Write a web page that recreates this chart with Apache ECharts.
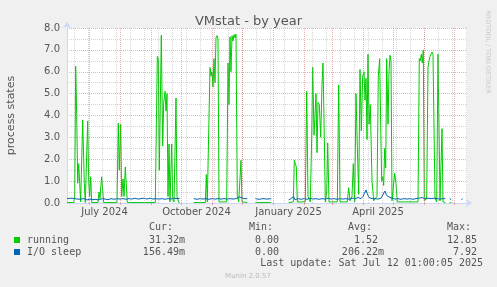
<!DOCTYPE html>
<html><head><meta charset="utf-8">
<script src="https://cdn.jsdelivr.net/npm/echarts@6/dist/echarts.min.js"></script>
<style>html,body{margin:0;padding:0;background:#f0f0f0;}#c{width:497px;height:287px;}</style>
</head><body><div id="c"></div>
<script>
// ---- data ----
const chartTitle = 'VMstat - by year';
const yTitle = 'process states';
const startDate = [2024, 5, 9];              // first day shown (Jun 9 2024)
const spanDays = 400;
const xLabelMonths = [[2024, 6], [2024, 9], [2025, 0], [2025, 3]];
const xLabels = ['July 2024', 'October 2024', 'January 2025', 'April 2025'];
const yMax = 8;
const seriesNames = ['running', 'I/O sleep'];
const seriesColors = ['#00CC00', '#0066B3'];
const curVals = ['31.32m', '156.49m'];
const minVals = ['0.00 ', '0.00 '];
const avgVals = ['1.52 ', '206.22m'];
const maxVals = ['12.85 ', '7.92 '];
const lastUpdate = 'Last update: Sat Jul 12 01:00:05 2025';
const footer = 'Munin 2.0.57';

// [day offset, value]; null = no data
const running = [
[0,0.02],[6.7,0.02],[7.7,0.3],[8.7,6.25],[9.7,4.0],[10.7,0.9],[11.7,1.8],[12.7,0.9],[13.7,0.05],[15,0.1],[15.7,3.8],[16.7,2.0],[17.3,0.9],[18.3,0.02],[19.7,0.1],[20.7,3.75],[21.7,1.0],[22.7,0.3],[23.7,1.2],[24.7,0.02],[31,0.02],[32,0.5],[33,0.2],[33.7,0.7],[34.7,1.2],[35.7,0.55],[36.7,0.02],[50,0.02],[51.3,3.65],[52.3,1.5],[53.7,3.6],[54.7,0.3],[56,1.1],[57,0.3],[58.3,1.65],[59.3,1.65],[60.3,0.02],[88.3,0.02],[90.3,6.7],[91.3,6.6],[92.3,1.5],[93.3,4.5],[94.3,7.67],[95.7,2.6],[96.7,4.6],[98,5.1],[99,4.2],[100,5.0],[101,0.3],[102,2.7],[103,0.05],[104.7,2.7],[105.7,0.2],[107,0.05],[109,4.8],[110,0.3],[111.7,0.02],[112.7,0.02],[113.5,null],
[126.7,0.02],[138.3,0.02],[139.3,1.3],[140.3,0.05],[142,0.05],[143,6.2],[144,5.8],[145,6.0],[146,5.3],[147,6.6],[148,5.5],[149,7.55],[150,7.65],[151,7.5],[152,0.05],[159.7,0.05],[161,6.4],[162,4.5],[163,7.6],[164,6.0],[165,7.65],[166,7.4],[167,7.7],[168,7.55],[169,7.72],[170.3,0.3],[171.7,0.05],[173,0.05],[174,1.95],[175,0.05],[180.3,0.02],[181,null],
[188.3,0.02],[204.3,0.02],[205,null],
[221.7,0.02],[226.3,0.05],[227.3,1.95],[228.3,2.0],[229.3,1.65],[230.3,0.05],[238.3,0.05],[239.7,5.1],[241,0.3],[243.3,0.05],[244.7,3.0],[245.7,6.2],[247,3.1],[248,4.0],[249,5.0],[250,2.3],[251,4.6],[252.3,4.5],[253.7,3.0],[255,5.4],[256,6.4],[257.3,3.0],[258.3,0.05],[259.7,0.5],[260.7,2.75],[262,0.05],[270.3,0.05],[271.7,5.4],[273,0.05],[280.3,0.05],[281.7,0.7],[283,0.1],[285,0.3],[286.3,1.8],[287.7,0.05],[289,5.0],[290.3,2.6],[291.7,0.4],[293,6.1],[294.3,3.3],[295.7,5.8],[297,6.0],[298,4.7],[299,5.7],[300,2.9],[301,6.8],[302,3.6],[303.3,4.5],[305,1.0],[306.7,0.1],[308.3,0.05],[310,0.3],[311.3,5.8],[312.7,6.6],[313.7,3.5],[314.7,1.0],[315.7,1.2],[316.7,0.8],[317.7,2.5],[318.7,1.6],[319.7,6.6],[321,3.6],[322,6.0],[323,6.75],[324,6.5],[325,0.1],[326.7,0.1],[327.7,1.35],[329,0.9],[330.3,0.05],[351,0.05],[352.3,6.6],[353.3,6.5],[354.3,6.8],[355.3,6.4],[356.3,7.0],[357.3,0.1],[359.7,0.2],[361,6.2],[362,6.5],[363,6.7],[364,6.8],[365,6.9],[366,6.8],[367,6.8],[368,0.2],[369.7,0.05],[371,6.8],[372,6.85],[373,0.1],[374,0.1],[375,3.4],[376,0.05],[378.3,0.02],[379,null],
[382.7,0.02],[384.3,0.02],[385,null]
];
const ioSleep = [
[0,0.2],[2,0.15],[4,0.22],[6,0.15],[8,0.2],[10,0.13],[12,0.17],[14,0.15],[17,0.2],[20,0.14],[23,0.18],[26,0.15],[29,0.17],[32,0.14],[35,0.2],[38,0.18],[41,0.15],[44,0.2],[47,0.17],[50,0.2],[53,0.18],[56,0.2],[59,0.17],[62,0.2],[65,0.18],[68,0.22],[71,0.18],[74,0.2],[77,0.22],[80,0.18],[83,0.22],[86,0.18],[89,0.2],[92,0.18],[95,0.2],[98,0.17],[101,0.2],[104,0.18],[107,0.22],[109,0.26],[111,0.2],[112.7,0.22],[113.5,null],
[126.7,0.2],[130,0.17],[133,0.2],[136,0.18],[139,0.2],[142,0.17],[145,0.2],[148,0.18],[151,0.2],[154,0.18],[157,0.2],[160,0.18],[163,0.2],[166,0.18],[169,0.2],[172,0.28],[174,0.22],[177,0.2],[180.3,0.2],[181,null],
[188.3,0.2],[192,0.17],[196,0.2],[200,0.18],[204.3,0.2],[205,null],
[221.7,0.15],[224,0.2],[226.5,0.3],[228,0.15],[231,0.2],[234,0.17],[237,0.2],[240,0.17],[243,0.22],[246,0.18],[249,0.2],[252,0.17],[255,0.2],[258,0.18],[261,0.22],[264,0.18],[267,0.2],[270,0.17],[273,0.2],[276,0.18],[279,0.2],[282,0.17],[285,0.22],[288,0.2],[291,0.25],[294,0.2],[296,0.3],[298,0.5],[299,0.6],[300,0.45],[302,0.25],[305,0.2],[308,0.2],[311,0.18],[314,0.22],[316,0.3],[318,0.55],[319.5,0.35],[321,0.3],[323,0.25],[325,0.2],[328,0.18],[331,0.2],[334,0.17],[337,0.2],[340,0.18],[343,0.2],[346,0.17],[349,0.2],[352,0.22],[355,0.25],[358,0.2],[361,0.22],[364,0.2],[367,0.22],[370,0.2],[373,0.18],[376,0.2],[378.3,0.2],[379,null],
[382.7,0.2],[384.3,0.15],[385,null],[394.3,0.15],[395.7,0.2]
];

// ---- helpers ----
const DAY = 86400000;
const t0 = Date.UTC(startDate[0], startDate[1], startDate[2]);
const dayOf = (y, m, d) => (Date.UTC(y, m, d) - t0) / DAY;
const monthStarts = [];
for (let y = 2024, m = 6; monthStarts.length < 20; m++) {
  if (m > 11) { m = 0; y++; }
  const d = dayOf(y, m, 1);
  if (d > spanDays) break;
  monthStarts.push(d);
}
const minorLines = [];
for (let d = dayOf(2024, 5, 16); d < spanDays; d += 14) minorLines.push(d);
const labelPos = xLabelMonths.map(([y, m]) => (dayOf(y, m, 1) + dayOf(y, m + 1, 1)) / 2);
const toSeries = arr => arr.map(p => [p[0], p[1] === null ? '-' : p[1]]);

const FONT = 'DejaVu Sans';
const MONO = 'DejaVu Sans Mono';
const GRID = 'rgba(150,150,150,0.4)';
const MGRID = 'rgba(225,80,80,0.45)';
const AXIS = '#CFD6F8';
const TXT = '#555';

const chart = echarts.init(document.getElementById('c'), null, {renderer: 'canvas'});

const gridMarks = [];
minorLines.forEach(d => gridMarks.push({xAxis: d, lineStyle: {color: GRID, type: [1, 1], width: 1}}));
monthStarts.forEach(d => gridMarks.push({xAxis: d, lineStyle: {color: MGRID, type: [1, 1], width: 1}}));

const els = [];
const rowsY = [240, 252];
const mono = '10px ' + MONO;
seriesNames.forEach((n, i) => {
  els.push({type: 'rect', shape: {x: 14, y: rowsY[i] - 3, width: 6, height: 6}, style: {fill: seriesColors[i]}});
  els.push({type: 'text', x: 27, y: rowsY[i], style: {text: n, font: mono, fill: TXT, textVerticalAlign: 'middle'}});
  [[curVals, 185], [minVals, 285], [avgVals, 384], [maxVals, 483]].forEach(([arr, x]) => {
    els.push({type: 'text', x: x, y: rowsY[i], style: {text: arr[i], font: mono, fill: TXT, textAlign: 'right', textVerticalAlign: 'middle'}});
  });
});
[['Cur:', 149], ['Min:', 249], ['Avg:', 348], ['Max:', 447]].forEach(([t, x]) => {
  els.push({type: 'text', x: x, y: 227, style: {text: t, font: mono, fill: TXT, textVerticalAlign: 'middle'}});
});
els.push({type: 'text', x: 483, y: 263, style: {text: lastUpdate, font: mono, fill: TXT, textAlign: 'right', textVerticalAlign: 'middle'}});
els.push({type: 'text', x: 248, y: 276, style: {text: footer, font: '7px ' + FONT, fill: '#bbb', textAlign: 'center', textVerticalAlign: 'middle'}});
els.push({type: 'text', x: 11, y: 115.5, rotation: Math.PI / 2, style: {text: yTitle, font: '11px ' + FONT, fill: TXT, textAlign: 'center', textVerticalAlign: 'middle'}});
els.push({type: 'text', x: 488, y: 52, rotation: -Math.PI / 2, style: {text: 'RRDTOOL / TOBI OETIKER', font: '6.5px ' + FONT, fill: '#c8c8c8', textAlign: 'center', textVerticalAlign: 'middle'}});

chart.setOption({
  animation: false,
  backgroundColor: '#f0f0f0',
  title: {text: chartTitle, left: 'center', top: 10, textStyle: {fontFamily: FONT, fontSize: 13, fontWeight: 'normal', color: TXT}},
  grid: {left: 67, top: 28, width: 400, height: 175, show: true, backgroundColor: '#fff', borderWidth: 0},
  xAxis: {
    type: 'value', min: 0, max: spanDays,
    splitLine: {show: false},
    axisLine: {show: true, lineStyle: {color: AXIS, width: 1}, symbol: ['none', 'arrow'], symbolSize: [6, 6], symbolOffset: [0, 5]},
    axisTick: {show: true, customValues: monthStarts, length: 2, lineStyle: {color: MGRID}},
    axisLabel: {customValues: labelPos, margin: 4, fontFamily: FONT, fontSize: 10, color: TXT,
      formatter: v => { const i = labelPos.findIndex(p => Math.abs(p - v) < 0.01); return i >= 0 ? xLabels[i] : ''; }}
  },
  yAxis: {
    type: 'value', min: 0, max: yMax, interval: 1,
    axisLine: {show: true, lineStyle: {color: AXIS, width: 1}, symbol: ['none', 'arrow'], symbolSize: [6, 6], symbolOffset: [0, 6]},
    axisTick: {show: false},
    axisLabel: {margin: 7, fontFamily: FONT, fontSize: 10, color: TXT, formatter: v => v.toFixed(1)},
    splitLine: {show: true, lineStyle: {color: MGRID, type: [1, 1], width: 1}},
    minorTick: {show: false, splitNumber: 2},
    minorSplitLine: {show: true, lineStyle: {color: GRID, type: [1, 1], width: 1}}
  },
  graphic: els,
  series: [
    {type: 'line', data: [[0, '-']], silent: true, showSymbol: false, lineStyle: {opacity: 0}, z: 1,
      markLine: {silent: true, symbol: 'none', label: {show: false}, animation: false, data: gridMarks}},
    {name: seriesNames[0], type: 'line', data: toSeries(running), showSymbol: false, connectNulls: false,
      lineStyle: {color: seriesColors[0], width: 1}, itemStyle: {color: seriesColors[0]}, z: 3},
    {name: seriesNames[1], type: 'line', data: toSeries(ioSleep), showSymbol: false, connectNulls: false,
      lineStyle: {color: seriesColors[1], width: 1}, itemStyle: {color: seriesColors[1]}, z: 4}
  ]
});
</script></body></html>
